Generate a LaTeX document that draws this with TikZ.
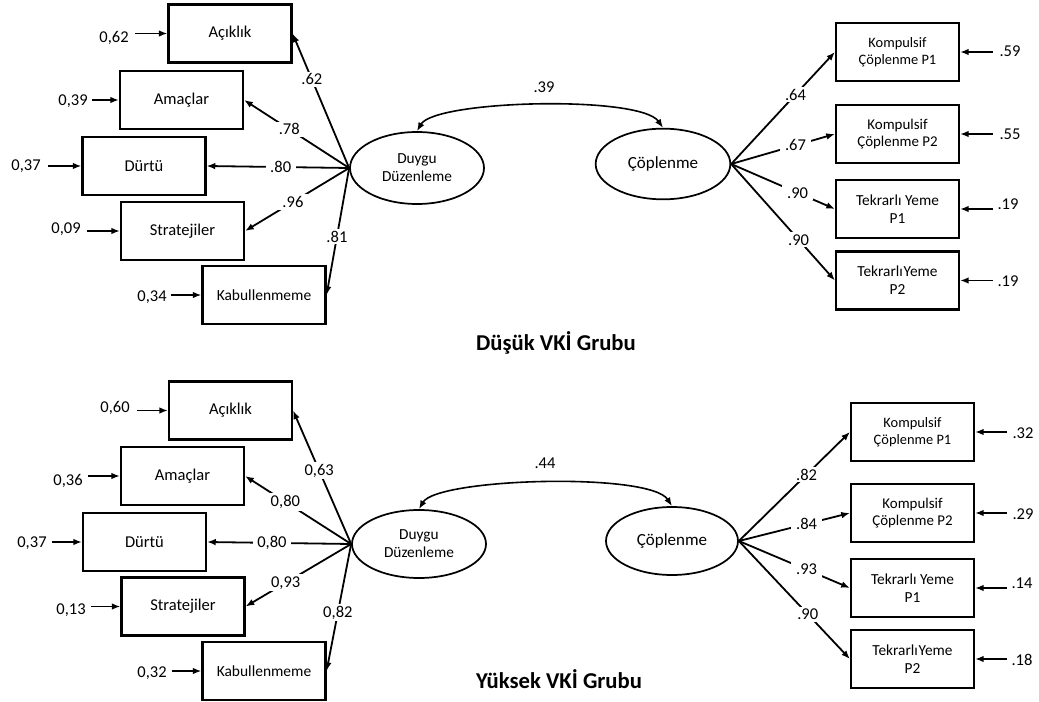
\documentclass[tikz,border=0pt]{standalone}
\usepackage{fontspec}
\setmainfont{Carlito}
\usetikzlibrary{arrows.meta,shapes.geometric}

\begin{document}
\begin{tikzpicture}[x=0.75pt,y=-0.75pt,
  obs/.style={draw,line width=1.6pt,minimum width=92.25pt,minimum height=43.5pt,
              inner sep=1pt,align=center,font=\fontsize{12.4}{14}\selectfont},
  lat/.style={draw,ellipse,line width=1.3pt,inner sep=0pt,align=center},
  arr/.style={line width=1.35pt,-{Latex[length=6.5pt,width=5pt]}},
  cov/.style={line width=1.2pt,{Latex[length=6.5pt,width=5pt]}-{Latex[length=6.5pt,width=5pt]}},
  num/.style={font=\fontsize{12.4}{14}\selectfont,inner sep=0pt},
  lbl/.style={fill=white,inner xsep=3.5pt,inner ysep=1.5pt,font=\fontsize{12.4}{14}\selectfont},
  ttl/.style={font=\bfseries\fontsize{17}{20}\selectfont,anchor=base}
]
\path[use as bounding box] (0,0) rectangle (1039,702);

% ---------------- Düşük VKİ group ----------------
\node[obs] (a1) at (230,33.5) {Açıklık};
\node[obs] (a2) at (181.5,100) {Amaçlar};
\node[obs] (a3) at (144,166) {Dürtü};
\node[obs] (a4) at (182.5,231) {Stratejiler};
\node[obs,font=\fontsize{11.6}{14}\selectfont] (a5) at (264,295) {Kabullenmeme};

\node[lat,minimum width=100.5pt,minimum height=54pt,font=\fontsize{11.5}{13.5}\selectfont] (dd1) at (417,168) {Duygu\\Düzenleme};
\node[lat,minimum width=101pt,minimum height=53pt,font=\fontsize{12.75}{14}\selectfont] (cp1) at (663,164) {Çöplenme};

\node[obs,font=\fontsize{10.8}{13}\selectfont] (k1) at (897.5,52) {Kompulsif\\Çöplenme P1};
\node[obs,font=\fontsize{11.2}{13}\selectfont] (k2) at (897.5,134) {Kompulsif\\Çöplenme P2};
\node[obs,font=\fontsize{11.5}{13.75}\selectfont] (k3) at (897.5,209) {Tekrarlı Yeme\\P1};
\node[obs,font=\fontsize{11.5}{13.75}\selectfont] (k4) at (897.5,280.5) {Tekrarlı\kern0.6pt Yeme\\P2};

% residual terms, left
\node[num] (ra1) at (114,38) {0,62};
\node[num] (ra2) at (73,101) {0,39};
\node[num] (ra3) at (26,166) {0,37};
\node[num] (ra4) at (66,229) {0,09};
\node[num] (ra5) at (152,297) {0,34};
\coordinate (ea1) at (135,33.5);
\coordinate (ea2) at (92,100);
\coordinate (ea3) at (48,166);
\coordinate (ea4) at (87,231);
\coordinate (ea5) at (171,295);
\draw[arr] (ea1) -- (a1.west);
\draw[arr] (ea2) -- (a2.west);
\draw[arr] (ea3) -- (a3.west);
\draw[arr] (ea4) -- (a4.west);
\draw[arr] (ea5) -- (a5.west);

% residual terms, right
\node[num] (rk1) at (1010,51) {.59};
\node[num] (rk2) at (1010,134) {.55};
\node[num] (rk3) at (1008,204) {.19};
\node[num] (rk4) at (1008,281) {.19};
\coordinate (ek1) at (993,52);
\coordinate (ek2) at (993,134);
\coordinate (ek3) at (993,209);
\coordinate (ek4) at (993,280.5);
\draw[arr] (ek1) -- (k1.east);
\draw[arr] (ek2) -- (k2.east);
\draw[arr] (ek3) -- (k3.east);
\draw[arr] (ek4) -- (k4.east);

% loadings
\draw[arr] (dd1.west) -- node[lbl,pos=0.66] {.62} (a1.east);
\draw[arr] (dd1.west) -- node[lbl,pos=0.57] {.78} (a2.east);
\draw[arr] (dd1.west) -- node[lbl,pos=0.48] {.80} (a3.east);
\draw[arr] (dd1.west) -- node[lbl,pos=0.54] {.96} (a4.east);
\draw[arr] (dd1.west) -- node[lbl,pos=0.54] {.81} (a5.east);
\draw[arr] (cp1.east) -- node[lbl,pos=0.62] {.64} (k1.west);
\draw[arr] (cp1.east) -- node[lbl,pos=0.62] {.67} (k2.west);
\draw[arr] (cp1.east) -- node[lbl,pos=0.64] {.90} (k3.west);
\draw[arr] (cp1.east) -- node[lbl,pos=0.65] {.90} (k4.west);

% covariance
\draw[cov] (dd1.north) .. controls (435,100) and (640,95) .. (cp1.north);
\node[num] (c1) at (544,87) {.39};

\node[ttl] (t1) at (556,350) {Düşük VKİ Grubu};

% ---------------- Yüksek VKİ group ----------------
\node[obs] (b1) at (230.5,410.5) {Açıklık};
\node[obs] (b2) at (182.5,476) {Amaçlar};
\node[obs] (b3) at (144.5,542) {Dürtü};
\node[obs] (b4) at (183,606.5) {Stratejiler};
\node[obs,font=\fontsize{11.6}{14}\selectfont] (b5) at (264,671) {Kabullenmeme};

\node[lat,minimum width=100.5pt,minimum height=51pt,font=\fontsize{11.5}{13.5}\selectfont] (dd2) at (419,544) {Duygu\\Düzenleme};
\node[lat,minimum width=99pt,minimum height=51pt,font=\fontsize{12.75}{14}\selectfont] (cp2) at (672,541) {Çöplenme};

\node[obs,font=\fontsize{10.8}{13}\selectfont] (m1) at (912.5,432) {Kompulsif\\Çöplenme P1};
\node[obs,font=\fontsize{11.2}{13}\selectfont] (m2) at (912.5,513) {Kompulsif\\Çöplenme P2};
\node[obs,font=\fontsize{11.5}{13.75}\selectfont] (m3) at (912.5,588) {Tekrarlı Yeme\\P1};
\node[obs,font=\fontsize{11.5}{13.75}\selectfont] (m4) at (912.5,659) {Tekrarlı\kern0.6pt Yeme\\P2};

% residual terms, left
\node[num] (rb1) at (115,408) {0,60};
\node[num] (rb2) at (68,481) {0,36};
\node[num] (rb3) at (32,543) {0,37};
\node[num] (rb4) at (71,610) {0,13};
\node[num] (rb5) at (152,673) {0,32};
\coordinate (eb1) at (137,410.5);
\coordinate (eb2) at (88,476);
\coordinate (eb3) at (52,542);
\coordinate (eb4) at (91,606.5);
\coordinate (eb5) at (172,671);
\draw[arr] (eb1) -- (b1.west);
\draw[arr] (eb2) -- (b2.west);
\draw[arr] (eb3) -- (b3.west);
\draw[arr] (eb4) -- (b4.west);
\draw[arr] (eb5) -- (b5.west);

% residual terms, right
\node[num] (rm1) at (1023,433) {.32};
\node[num] (rm2) at (1023,514) {.29};
\node[num] (rm3) at (1022,583) {.14};
\node[num] (rm4) at (1022,660) {.18};
\coordinate (em1) at (1007,432);
\coordinate (em2) at (1007,513);
\coordinate (em3) at (1007,588);
\coordinate (em4) at (1007,659);
\draw[arr] (em1) -- (m1.east);
\draw[arr] (em2) -- (m2.east);
\draw[arr] (em3) -- (m3.east);
\draw[arr] (em4) -- (m4.east);

% loadings
\draw[arr] (dd2.west) -- node[lbl,pos=0.55] {0,63} (b1.east);
\draw[arr] (dd2.west) -- node[lbl,pos=0.62] {0,80} (b2.east);
\draw[arr] (dd2.west) -- node[lbl,pos=0.55] {0,80} (b3.east);
\draw[arr] (dd2.west) -- node[lbl,pos=0.62] {0,93} (b4.east);
\draw[arr] (dd2.west) -- node[lbl,pos=0.54] {0,82} (b5.east);
\draw[arr] (cp2.east) -- node[lbl,pos=0.61] {.82} (m1.west);
\draw[arr] (cp2.east) -- node[lbl,pos=0.61] {.84} (m2.west);
\draw[arr] (cp2.east) -- node[lbl,pos=0.61] {.93} (m3.west);
\draw[arr] (cp2.east) -- node[lbl,pos=0.62] {.90} (m4.west);

% covariance
\draw[cov] (dd2.north) .. controls (437,478) and (650,472) .. (cp2.north);
\node[num] (c2) at (545,463) {.44};

\node[ttl] (t2) at (559,688) {Yüksek VKİ Grubu};
\end{tikzpicture}
\end{document}
